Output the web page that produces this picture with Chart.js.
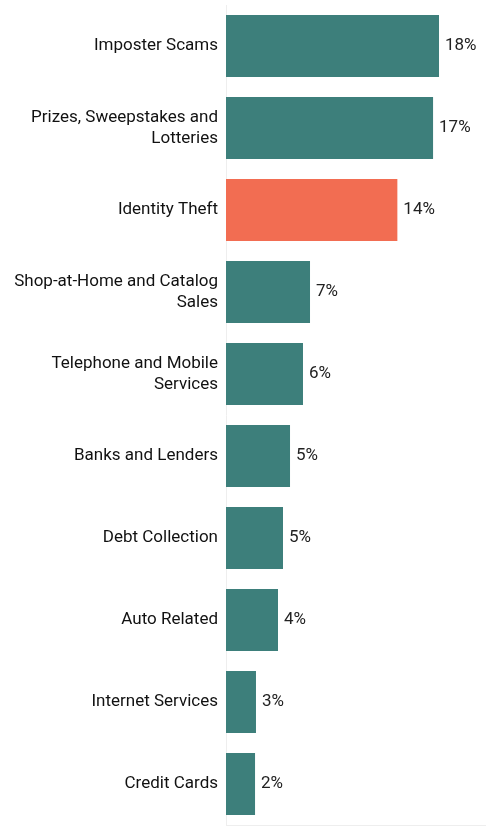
<!DOCTYPE html>
<html>
<head>
<meta charset="utf-8">
<script src="https://cdn.jsdelivr.net/npm/chart.js"></script>
<style>
  html, body { margin: 0; padding: 0; background: #fff; }
  #wrap { width: 486px; height: 832px; }
</style>
</head>
<body>
<div id="wrap"><canvas id="myChart"></canvas></div>
<script>
  const categories = [
    'Imposter Scams',
    ['Prizes, Sweepstakes and', 'Lotteries'],
    'Identity Theft',
    ['Shop-at-Home and Catalog', 'Sales'],
    ['Telephone and Mobile', 'Services'],
    'Banks and Lenders',
    'Debt Collection',
    'Auto Related',
    'Internet Services',
    'Credit Cards'
  ];
  const shares = [17.9, 17.4, 14.4, 7.06, 6.47, 5.38, 4.79, 4.37, 2.52, 2.44];
  const highlight = 'Identity Theft';

  const teal = '#3d7f7b';
  const coral = '#f26d52';
  const colors = categories.map(c => c === highlight ? coral : teal);

  // percent labels at the end of each bar
  const valueLabels = {
    id: 'valueLabels',
    afterDatasetsDraw(chart) {
      const ctx = chart.ctx;
      const meta = chart.getDatasetMeta(0);
      ctx.save();
      ctx.font = '17px Roboto';
      ctx.fillStyle = '#222';
      ctx.textAlign = 'left';
      ctx.textBaseline = 'middle';
      meta.data.forEach((bar, i) => {
        ctx.fillText(Math.round(shares[i]) + '%', bar.x + 6, bar.y);
      });
      ctx.restore();
    }
  };

  const ctx = document.getElementById('myChart');
  new Chart(ctx, {
    type: 'bar',
    data: {
      labels: categories,
      datasets: [{
        data: shares,
        backgroundColor: colors,
        borderWidth: 0,
        categoryPercentage: 1,
        barPercentage: 0.755
      }]
    },
    options: {
      indexAxis: 'y',
      responsive: true,
      maintainAspectRatio: false,
      animation: false,
      layout: { padding: { top: 5, bottom: 6, right: 0, left: 0 } },
      plugins: {
        legend: { display: false },
        tooltip: { enabled: false }
      },
      scales: {
        x: {
          min: 0,
          max: 260 / 11.9,
          ticks: { display: false },
          grid: { display: false },
          border: { display: true, color: '#eeeeee', width: 1 },
          afterFit(scale) { scale.height = 1; }
        },
        y: {
          ticks: {
            color: '#111',
            font: { family: 'Roboto', size: 17, lineHeight: 1.25 },
            padding: 0
          },
          grid: { display: false },
          border: { display: true, color: '#eeeeee', width: 1 },
          afterFit(scale) {
            scale.width = 226;
            scale.paddingTop = 0;
            scale.paddingBottom = 0;
          }
        }
      }
    },
    plugins: [valueLabels]
  });
</script>
</body>
</html>
